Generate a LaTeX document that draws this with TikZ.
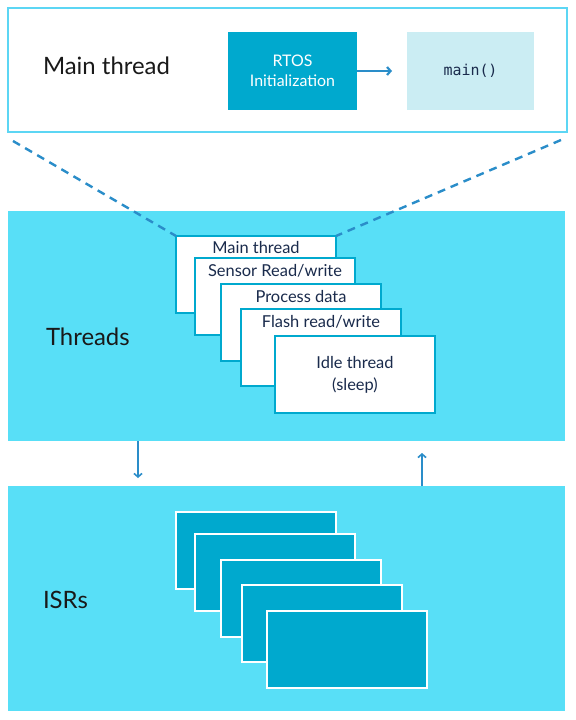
\documentclass[tikz,border=0pt]{standalone}
\usepackage{fontspec}
\setmainfont{Lato}
\setmonofont{DejaVu Sans Mono}
\usetikzlibrary{arrows.meta,calc}
\definecolor{panelcyan}{HTML}{58DFF7}
\definecolor{topborder}{HTML}{5CD6F4}
\definecolor{deepcyan}{HTML}{00A9CE}
\definecolor{palecyan}{HTML}{CBEDF3}
\definecolor{linkblue}{HTML}{2A8DC9}
\definecolor{navy}{HTML}{1A2B4C}
\begin{document}
\begin{tikzpicture}[x=1bp,y=-1bp,
  every node/.style={inner sep=0pt, outer sep=0pt},
  panel/.style={fill=panelcyan, draw=none, anchor=north west},
  topbox/.style={draw=topborder, line width=2.2bp, fill=white, anchor=north west},
  rtosbox/.style={fill=deepcyan, anchor=north west, text=white, align=center,
     font=\fontsize{16}{20}\selectfont},
  mainbox/.style={fill=palecyan, anchor=north west, text=navy,
     font=\ttfamily\fontsize{15}{18}\selectfont},
  biglabel/.style={anchor=base west, text=black!90, font=\fontsize{24}{28}\selectfont},
  tcard/.style={draw=deepcyan, line width=1.5bp, fill=white, anchor=north west,
     minimum width=160bp, minimum height=77bp},
  icard/.style={draw=white, line width=1.5bp, fill=deepcyan, anchor=north west,
     minimum width=160bp, minimum height=77bp},
  cardtext/.style={anchor=base, text=navy, font=\fontsize{16.5}{22}\selectfont, align=center},
  dashlink/.style={draw=linkblue, line width=2.4bp, dash pattern=on 8bp off 6bp},
  flow/.style={draw=linkblue, line width=1.6bp, -{Straight Barb[length=3.5bp,width=8bp]}},
]
\useasboundingbox[fill=white] (0,0) rectangle (576,720);

% panels
\node[topbox, minimum width=559bp, minimum height=124bp] (top) at (8,8) {};
\node[panel, minimum width=557bp, minimum height=230bp] (threads) at (8,211) {};
\node[panel, minimum width=557bp, minimum height=225bp] (isrs) at (8,486) {};

% top content
\node[biglabel] (mtlabel) at (43,75) {Main thread};
\node[rtosbox, minimum width=129bp, minimum height=78bp] (rtos) at (228,32) {RTOS\\Initialization};
\node[mainbox, minimum width=127bp, minimum height=78bp] (mainfn) at (407,32) {main()};
\draw[flow, line width=2.2bp] (rtos.east) -- ($(mainfn.west)+(-15,0)$);

% labels
\node[biglabel] (thlabel) at (46,345) {Threads};
\node[biglabel] (isrlabel) at (43,608) {ISRs};

% thread cards
\node[tcard] (t1) at (176,236) {};
\coordinate (dl) at (13,141);
\coordinate (dr) at (561,140);
\draw[dashlink] (dl) -- (t1.north west);
\draw[dashlink] (dr) -- (t1.north east);
\node[cardtext] (t1txt) at ($(t1.north)+(0,17)$) {Main thread};
\node[tcard] (t2) at (195,258) {};
\node[cardtext] (t2txt) at ($(t2.north)+(0,18.5)$) {Sensor Read/write};
\node[tcard] (t3) at (221,284) {};
\node[cardtext] (t3txt) at ($(t3.north)+(0,18)$) {Process data};
\node[tcard] (t4) at (241,309) {};
\node[cardtext] (t4txt) at ($(t4.north)+(0,18)$) {Flash read/write};
\node[tcard, anchor=north west, text=navy, align=center,
      font=\fontsize{16.5}{22}\selectfont] (t5) at (275,336) {Idle thread\\(sleep)};

% arrows between panels
\coordinate (downend) at (138,478);
\coordinate (upend) at (422,453);
\draw[flow] (threads.south -| downend) -- (downend);
\draw[flow] (isrs.north -| upend) -- (upend);

% ISR cards
\node[icard] (i1) at (176,512) {};
\node[icard] (i2) at (195,534) {};
\node[icard] (i3) at (221,560) {};
\node[icard] (i4) at (242,585) {};
\node[icard] (i5) at (267,611) {};
\end{tikzpicture}
\end{document}
